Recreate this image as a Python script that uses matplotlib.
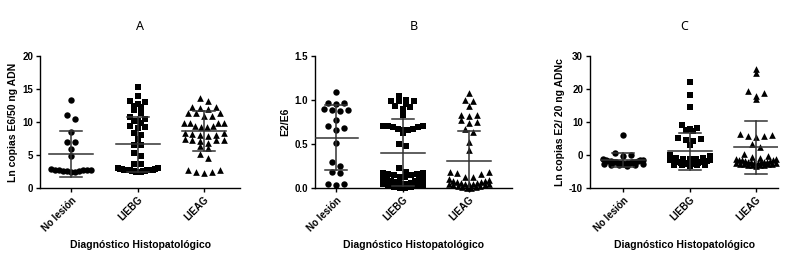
import numpy as np
import matplotlib
matplotlib.use("Agg")
import matplotlib.pyplot as plt

groups = ["No lesión", "LIEBG", "LIEAG"]
titles = ["A", "B", "C"]
ylabels = ["Ln copias E6/50 ng ADN", "E2/E6", "Ln copias E2/ 20 ng ADNc"]
xlabel = "Diagnóstico Histopatológico"

# ---- Panel A ----
A_no = [13.3, 11.1, 10.5, 8.5, 7.0, 7.0, 5.9, 4.8,
        2.9, 2.8, 2.7, 2.7, 2.6, 2.6, 2.5, 2.5, 2.6, 2.7, 2.8]
A_liebg = [15.3, 14.0, 13.2, 13.0, 12.8, 12.5, 12.3, 11.8, 11.3, 10.8, 10.5,
           10.1, 10.2, 9.9, 9.4, 9.1, 9.3, 8.4, 8.0, 7.5, 6.5, 6.5, 5.3, 4.8,
           3.7, 3.7,
           3.0, 2.9, 2.9, 2.8, 2.8, 2.8, 2.7, 2.7, 2.7, 2.6, 2.6, 2.6, 2.5,
           2.5, 2.5, 2.6, 2.7, 2.8, 2.9, 3.0]
A_lieag = [13.7, 13.2, 12.3, 12.2, 12.1, 12.0, 11.4, 11.4, 11.4, 10.9, 10.9,
           9.9, 9.8, 9.8, 9.8, 9.4, 9.4, 9.3, 9.3, 8.4, 8.3, 8.2, 8.1, 8.0, 7.9,
           7.4, 7.3, 7.3, 7.2, 7.1, 6.8, 6.3, 6.0, 5.2, 4.6,
           2.7, 2.7, 2.5, 2.5, 2.3]
A_mean = [5.1, 6.6, 8.6]
A_sd = [3.5, 4.2, 3.05]

# ---- Panel B ----
B_no = [1.09, 0.97, 0.97, 0.95, 0.90, 0.89, 0.89, 0.88, 0.77, 0.70, 0.68,
        0.66, 0.51, 0.30, 0.25, 0.17, 0.18, 0.05, 0.04, 0.03]
B_liebg = [1.05, 1.00, 0.99, 0.99, 0.99, 0.96, 0.93, 0.92, 0.90, 0.83,
           0.71, 0.70, 0.69, 0.67, 0.66, 0.66, 0.67, 0.69, 0.70, 0.62, 0.50,
           0.48, 0.23,
           0.18, 0.17, 0.16, 0.15, 0.15, 0.16, 0.17, 0.13, 0.12, 0.10, 0.09,
           0.08, 0.08, 0.09, 0.10, 0.07, 0.06, 0.05, 0.04, 0.05, 0.06, 0.03,
           0.02, 0.01, 0.01, 0.02, 0.00, 0.00]
B_lieag = [1.08, 1.00, 0.99, 0.93, 0.83, 0.82, 0.83, 0.77, 0.75, 0.74, 0.67,
           0.64, 0.52, 0.43, 0.18, 0.17, 0.18, 0.16, 0.13, 0.13,
           0.10, 0.09, 0.08, 0.08, 0.07, 0.07, 0.06, 0.06, 0.05, 0.05, 0.05,
           0.04, 0.04, 0.03, 0.03, 0.02, 0.02, 0.01, 0.01, 0.00, 0.00]
B_mean = [0.57, 0.40, 0.31]
B_sd = [0.37, 0.38, 0.34]

# ---- Panel C ----
C_no = [6.1, 0.5, 0.0, -0.2,
        -1.3, -1.4, -1.6, -1.7, -1.8, -1.9, -2.0, -2.1, -2.2, -2.3, -2.4,
        -2.5, -2.6, -2.7, -2.8, -2.9, -3.0, -3.1, -3.2, -2.0, -2.5, -1.5]
C_liebg = [22.0, 18.1, 14.5, 9.1, 8.2, 7.9, 7.6, 7.4, 5.2, 4.8, 4.5, 4.1, 3.1,
           -0.1, -0.3,
           -0.8, -1.0, -1.2, -1.3, -1.5, -1.6, -1.8, -1.9, -2.0, -2.1, -2.2,
           -2.3, -2.4, -2.5, -2.6, -2.7, -2.8, -2.9, -3.0, -3.1, -3.2, -2.5,
           -2.0, -1.5, -2.8, -3.0, -2.2, -1.1]
C_lieag = [26.1, 24.7, 19.3, 18.7, 18.0, 17.0, 6.5, 6.0, 5.8, 5.7, 5.5, 3.3,
           2.5, 0.3, -0.3, -0.5,
           -1.0, -1.2, -1.4, -1.5, -1.7, -1.8, -2.0, -2.1, -2.2, -2.3, -2.4,
           -2.5, -2.6, -2.7, -2.8, -2.9, -3.0, -3.1, -3.2, -2.5, -2.0, -1.6,
           -2.8, -3.0, -2.2, -1.1]
C_mean = [-1.5, 1.2, 2.3]
C_sd = [2.1, 5.6, 8.1]

panels = [
    dict(data=[A_no, A_liebg, A_lieag], mean=A_mean, sd=A_sd,
         ylim=(0, 20), yticks=[0, 5, 10, 15, 20], fmt="{:.0f}",
         pos=(40, 240), first_tick_px=71),
    dict(data=[B_no, B_liebg, B_lieag], mean=B_mean, sd=B_sd,
         ylim=(0, 1.5), yticks=[0.0, 0.5, 1.0, 1.5], fmt="{:.1f}",
         pos=(315, 512), first_tick_px=336),
    dict(data=[C_no, C_liebg, C_lieag], mean=C_mean, sd=C_sd,
         ylim=(-10, 30), yticks=[-10, 0, 10, 20, 30], fmt="{:.0f}",
         pos=(590, 778), first_tick_px=623),
]
markers = ["o", "s", "^"]
msizes = [4.6, 4.1, 4.8]

W, H = 794, 265
fig = plt.figure(figsize=(W / 100, H / 100), dpi=100)
plt.rcParams["font.family"] = ["Liberation Sans", "DejaVu Sans"]

ax_top, ax_bot = 56, 188
spacing = 66.5


def row_offsets(vals_px, row_h=4.5, gap=7.8, maxw=20.0):
    """Prism-like scatter layout: group close values into rows and spread each row."""
    vals_px = np.asarray(vals_px)
    order = np.argsort(-vals_px)
    xs = np.zeros(len(vals_px))
    rows, cur = [], [order[0]]
    for i in order[1:]:
        if vals_px[cur[0]] - vals_px[i] <= row_h:
            cur.append(i)
        else:
            rows.append(cur)
            cur = [i]
    rows.append(cur)
    for row in rows:
        n = len(row)
        if n == 1:
            continue
        sp = min(gap, 2 * maxw / (n - 1))
        offs = (np.arange(n) - (n - 1) / 2) * sp
        srt = sorted(row, key=lambda j: -vals_px[j])
        pos_order = sorted(range(n), key=lambda q: -abs(offs[q]))
        for j, q in zip(srt, pos_order):
            xs[j] = offs[q]
    return xs


for k, p in enumerate(panels):
    l, r = p["pos"]
    ax = fig.add_axes([l / W, 1 - ax_bot / H, (r - l) / W, (ax_bot - ax_top) / H])
    x0 = -(p["first_tick_px"] - l) / spacing
    x1 = (r - p["first_tick_px"]) / spacing
    ax.set_xlim(x0, x1)
    ax.set_ylim(*p["ylim"])
    ppu_y = (ax_bot - ax_top) / (p["ylim"][1] - p["ylim"][0])
    for g, vals in enumerate(p["data"]):
        vals = np.asarray(vals, float)
        offs_px = row_offsets(vals * ppu_y)
        ax.scatter(g + offs_px / spacing, vals, marker=markers[g],
                   s=msizes[g] ** 2, color="black", linewidths=0, zorder=2,
                   clip_on=False)
        m, s = p["mean"][g], p["sd"][g]
        ax.plot([g, g], [m - s, m + s], color="#333333", lw=1.1, zorder=3)
        ax.plot([g - 22 / spacing, g + 22 / spacing], [m, m], color="#333333", lw=1.1, zorder=3)
        for v in (m - s, m + s):
            ax.plot([g - 11 / spacing, g + 11 / spacing], [v, v], color="#333333", lw=1.1, zorder=3)
    for sp in ("top", "right"):
        ax.spines[sp].set_visible(False)
    for sp in ("left", "bottom"):
        ax.spines[sp].set_linewidth(1.0)
    ax.set_yticks(p["yticks"])
    ax.set_yticklabels([p["fmt"].format(t) for t in p["yticks"]], fontsize=7, fontweight="bold")
    ax.set_xticks([0, 1, 2])
    ax.set_xticklabels(groups, rotation=45, ha="right", rotation_mode="anchor",
                       fontsize=7, fontweight="bold")
    ax.tick_params(axis="both", length=3, width=1, pad=2)
    ax.set_ylabel(ylabels[k], fontsize=7.5, fontweight="bold", labelpad=3)
    cx = (l + r) / 2 / W
    fig.text(cx, 1 - 245 / H, xlabel, ha="center", va="center", fontsize=7.5, fontweight="bold")
    fig.text(cx, 1 - 27 / H, titles[k], ha="center", va="center", fontsize=9,
             family=["Noto Sans", "DejaVu Sans"])

fig.savefig("out.png", dpi=100)
